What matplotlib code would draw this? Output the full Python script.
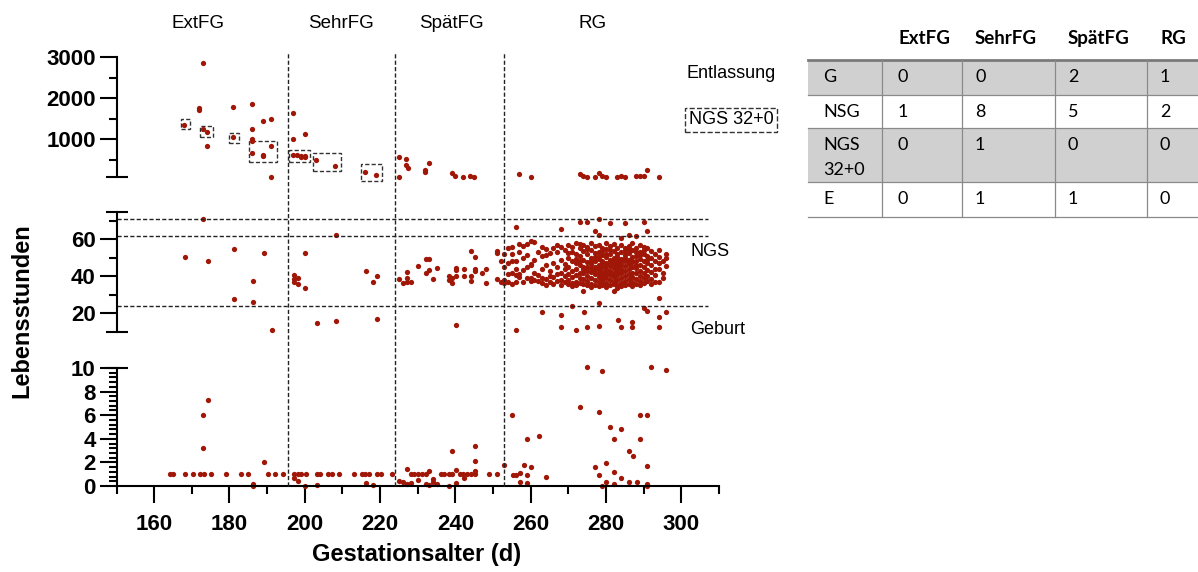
import numpy as np
import matplotlib
matplotlib.use('Agg')
import matplotlib.pyplot as plt
import matplotlib.transforms as mtrans
from matplotlib.lines import Line2D
from matplotlib.patches import Rectangle

plt.rcParams['font.family'] = ['Liberation Sans', 'DejaVu Sans']

red = '#a01707'
dash = (0, (3, 1.6))

# ---------------- data ----------------
groups = ['ExtFG', 'SehrFG', 'SpätFG', 'RG']
group_centres = [171.6, 209.6, 239.0, 276.4]      # label centres (days)
group_bounds = [195.5, 224.0, 252.8]              # vertical dividers (days)
ngs_lines = [24, 61.5, 71]                        # horizontal dashed lines (h)

# upper panel (h, discharge)
top_x = [168, 173, 174, 174, 172, 172, 173, 181, 181, 186, 186, 186, 186, 186, 189, 189, 189, 191, 191, 191,
         197, 197, 197, 198, 199, 199, 200, 200, 200, 203, 208, 216, 219,
         225, 225, 227, 227, 227.5, 232, 232, 233, 239, 240, 242, 244, 245,
         257, 260, 273, 274, 275, 277, 278, 279, 280, 283, 284, 285, 288, 289, 290, 291, 294]
top_y = [1356, 1244, 1185, 837, 1770, 1720, 2870, 1795, 1049, 1860, 1250, 1000, 950, 660, 1455, 610, 585, 1500, 837, 80,
         1650, 1010, 625, 610, 600, 575, 1130, 590, 560, 503, 356, 195, 122,
         576, 80, 512, 366, 307, 251, 202, 415, 171, 112, 80, 112, 80,
         146, 80, 146, 112, 80, 80, 171, 112, 80, 80, 112, 80, 112, 112, 112, 250, 80]

# dashed boxes in upper panel: (x0, x1, y0, y1)
boxes = [(167.2, 169.6, 1250, 1490), (172.2, 175.5, 1063, 1324), (180.0, 182.5, 902, 1146),
         (185.3, 192.6, 446, 958), (195.7, 201.4, 439, 746), (202.2, 209.5, 227, 659),
         (215.0, 220.5, -17, 390)]

# middle panel, preterm groups
mid_x = [173.1, 168.1, 174.2, 181.1, 189.2, 186.2, 181.1, 186.2, 191.2,
         197.1, 197.1, 197.1, 198.1, 198.1, 200.1, 200.1, 203.2, 208.2, 208.2, 216.2, 218.2, 219.2, 219.2,
         225.1, 226.1, 227.1, 227.1, 227.1, 228.2, 230.1, 232.1, 232.1, 233.1, 233.1, 234.1, 235.1, 238.2,
         238.2, 239.1, 239.1, 240.1, 240.1, 240.1, 240.1, 242.2, 242.2, 244.1, 245.1, 244.1, 244.1, 245.1,
         245.1, 247.1, 248.1, 248.1, 251.1, 251.1, 251.1, 252.0, 252.0]
mid_y = [70.8, 50.6, 48.4, 54.6, 52.4, 37.5, 27.7, 26.1, 10.8,
         40.7, 38.4, 37.1, 38.9, 35.8, 52.8, 33.8, 14.6, 62.3, 15.8, 43, 36.8, 40.3, 16.8,
         38.4, 36.4, 42.3, 39.2, 36.9, 37.1, 45.4, 41.8, 49.4, 49.4, 43.2, 38.7, 44.3, 40,
         37.8, 36.2, 38.9, 44.5, 43.2, 40, 13.5, 44.1, 40, 53.7, 50.4, 40, 37.5, 44.1,
         42.9, 41.8, 44.1, 36.2, 53.7, 52.6, 38.4, 36.9, 48.1]

# middle panel, term group (hours per gestational day)
rg_days = list(range(253, 297))
rg_hours = [
    [36.5, 38, 45, 52], [37, 41, 47, 55], [36, 42, 48.5, 52, 56], [36.9, 40.5, 44, 48, 66.5],
    [41.4, 39.5, 53, 57.5], [43.2, 37, 56.2, 50], [57.6, 51.4, 39, 45], [58.9, 46.8, 45.9, 39, 37.5],
    [58.5, 42, 38, 49], [37.5, 40.5, 53], [39, 44, 51, 56, 36.5], [54.9, 51.4, 46, 38.5, 35.5],
    [52.5, 43, 37, 40], [55.5, 47, 39.5, 36], [57, 45, 41, 37.5, 53], [65.4, 56, 49, 42, 38, 35.5],
    [54, 46.5, 40, 37, 44], [57, 50, 45, 41, 38, 36, 52.5], [56, 48, 43, 39.5, 36.5, 53, 34.5],
    [58, 52, 47, 44, 40.5, 37, 35, 49.5], [69.2, 55, 51, 46, 42, 39, 36.5, 48, 57.5],
    [57, 53.5, 49, 45, 41.5, 38.5, 36, 31.9, 44], [69.5, 56, 52, 47.5, 43, 40, 37.5, 35, 54.5, 45],
    [58, 54, 50, 46.5, 42.5, 39, 36, 48, 44.5, 34], [64.6, 56.5, 52.5, 48.5, 45, 41, 38, 35.5, 43.5, 50.5],
    [70.8, 62.3, 57, 53, 49.5, 46, 42, 39.5, 37, 34.5, 44, 51],
    [55.5, 51.5, 48, 45, 42.5, 40, 37.5, 35, 47, 53.5, 38.5],
    [58, 54.5, 50.5, 47, 44, 41, 39, 36.5, 34, 46, 52, 43],
    [68.6, 56.5, 52, 49, 45.5, 43, 40.5, 38, 35.5, 47.5, 54],
    [57.5, 53.5, 50, 46.5, 44.5, 42, 39.5, 37, 31.9, 48.5, 41, 36],
    [55.5, 52, 48, 45, 43, 40.5, 38, 35, 50.5, 46.5, 33.5],
    [60.9, 57, 53, 49.5, 46, 44, 41.5, 39, 36.5, 47.5, 42.5, 34.5],
    [68.6, 55, 51.5, 48, 45.5, 43, 40, 37.5, 35, 50, 53.5],
    [62.3, 56.5, 52.5, 49, 46.5, 44, 41, 38.5, 36, 47, 54.5],
    [58, 54, 50.5, 47.5, 45, 42, 39.5, 37, 34.5, 48.5],
    [61.8, 55.5, 51, 48, 44.5, 41.5, 38.5, 36, 46, 53],
    [57, 53, 49.5, 46, 43, 40, 37.5, 35, 51.5],
    [69.5, 56, 52, 48.5, 45, 42, 39, 36.5, 54],
    [64.5, 55, 51, 47, 43.5, 40, 37.5, 49],
    [53.5, 50, 46, 42.5, 38.5, 36], [52, 48.5, 44, 40.5, 37],
    [54, 50.5, 44.1, 36.9, 47], [48, 42, 39], [52.2, 49.9, 45.5]]
rg_low_x = [256, 263.1, 268.1, 268.1, 271, 272.1, 274.1, 275, 278.1, 278.1,
            283.2, 284, 287, 287, 290, 291, 294, 294, 294, 296]
rg_low_y = [10.9, 20.9, 19.1, 12.4, 23.9, 10.9, 20.9, 12.4, 25.7, 13.1,
            16.4, 12.4, 15.1, 12.4, 22.7, 21.4, 28.1, 17.8, 12.4, 20.9]

# lower panel: deaths at 1 h
one_h_days = [164.1, 165.1, 168.1, 170.2, 172.2, 173.2, 175.1, 179.2, 183.1, 185.0, 190.2, 192.1, 194.2,
              197.1, 198.2, 199.1, 200.2, 203.2, 204.1, 206.1, 207.1, 209.1, 213.1, 215.1, 216.1, 217.1,
              219.1, 220.2, 223.1, 228.2, 229.0, 230.1, 231.1, 232.1, 236.1, 237.0, 238.2, 239.0, 241.1,
              242.0, 243.0, 244.1, 245.1, 249.0, 251.1]
bot_x = [173.1, 174.2, 173.1, 189.2, 186.2, 186.2, 197.1, 198.1, 200.1, 203.2, 216.2, 218.2,
         225.1, 226.1, 227.1, 228.2, 227.1, 230.1, 232.1, 233.1, 234.1, 234.1, 235.1, 233.1, 238.2,
         239.1, 240.1, 240.1, 242.2, 245.1, 245.1, 245.1,
         252.9, 255.1, 255.2, 256.1, 257.2, 258.1, 259.1, 259.1, 259.1, 260.2, 257.2, 262.1, 264.1,
         273.1, 275.0, 277.1, 278.1, 278.1, 279.0, 279.0, 280.1, 280.1, 281.0, 282.1, 282.1, 282.1,
         284.1, 284.1, 286.1, 286.1, 287.1, 288.1, 289.0, 289.0, 291.0, 291.0, 291.0, 291.0, 292.0, 296.0]
bot_y = [6.0, 7.3, 3.2, 2.0, 0.2, 0.0, 0.65, 0.4, 0.0, 0.05, 0.23, 0.1,
         0.45, 0.37, 0.17, 0.28, 1.44, 0.5, 0.15, 0.08, 0.62, 0.37, 0.17, 1.27, 0.0,
         2.97, 1.36, 0.28, 0.65, 3.4, 2.1, 1.3,
         1.8, 6.0, 0.93, 0.93, 1.07, 1.8, 4.0, 0.93, 0.22, 1.6, 0.37, 4.24, 0.76,
         6.7, 10.1, 1.64, 6.27, 0.93, 9.77, 0.0, 1.98, 0.31, 5.03, 4.0, 1.21, 0.17,
         4.8, 0.7, 3.0, 0.31, 2.54, 0.31, 6.04, 4.0, 6.04, 1.7, 0.17, 0.0, 10.1, 9.8]

# table
tab_cols = ['ExtFG', 'SehrFG', 'SpätFG', 'RG']
tab_rows = ['G', 'NSG', 'NGS\n32+0', 'E']
tab_ext = [0, 1, 0, 0]
tab_sehr = [0, 8, 1, 1]
tab_spaet = [2, 5, 0, 1]
tab_rg = [1, 2, 0, 0]

# ---------------- figure ----------------
W, H = 1198, 572
fig = plt.figure(figsize=(W / 100, H / 100), dpi=100)


def px_axes(x0, x1, ytop, ybot):
    return fig.add_axes([x0 / W, 1 - ybot / H, (x1 - x0) / W, (ybot - ytop) / H])


ax_top = px_axes(116.5, 719, 57.3, 177.2)
ax_mid = px_axes(116.5, 719, 211.5, 331.7)
ax_bot = px_axes(116.5, 719, 368, 486)

ms = 3.8
ax_top.plot(top_x, top_y, 'o', color=red, ms=ms, mew=0, clip_on=False)
ax_mid.plot(mid_x, mid_y, 'o', color=red, ms=ms, mew=0, clip_on=False)
for d, hs in zip(rg_days, rg_hours):
    ax_mid.plot([d] * len(hs), hs, 'o', color=red, ms=ms, mew=0, clip_on=False)
ax_mid.plot(rg_low_x, rg_low_y, 'o', color=red, ms=ms, mew=0, clip_on=False)
ax_bot.plot(one_h_days, [1] * len(one_h_days), 'o', color=red, ms=ms, mew=0, clip_on=False)
ax_bot.plot(bot_x, bot_y, 'o', color=red, ms=ms, mew=0, clip_on=False)

for x0, x1, y0, y1 in boxes:
    ax_top.add_patch(Rectangle((x0, y0), x1 - x0, y1 - y0, fill=False, ec='#333333',
                               lw=1.0, ls=dash, clip_on=False))

ax_mid.hlines(ngs_lines, 150, 307, colors='#222222', lw=1.0, linestyles=[dash])

ax_top.set_ylim(75, 3000)
ax_mid.set_ylim(10, 75)
ax_bot.set_ylim(0, 10)
for ax in (ax_top, ax_mid, ax_bot):
    ax.set_xlim(150, 310)
    ax.set_facecolor('none')
    ax.spines['top'].set_visible(False)
    ax.spines['right'].set_visible(False)
    ax.spines['left'].set_linewidth(1.5)
    ax.tick_params(axis='y', which='major', length=12, width=1.5, labelsize=16, pad=3)
    ax.tick_params(axis='y', which='minor', length=6, width=1.5)
for ax in (ax_top, ax_mid):
    ax.spines['bottom'].set_visible(False)
    ax.tick_params(axis='x', which='both', bottom=False, labelbottom=False)

ax_top.set_yticks([1000, 2000, 3000])
ax_top.set_yticks([500, 1500, 2500], minor=True)
ax_mid.set_yticks([20, 40, 60])
ax_mid.set_yticks([30, 50, 70], minor=True)
ax_bot.set_yticks([0, 2, 4, 6, 8, 10])
ax_bot.set_yticks(np.arange(0, 10.01, 0.4), minor=True)
ax_bot.set_xticks(range(160, 301, 20))
ax_bot.set_xticks(range(150, 311, 10), minor=True)
ax_bot.spines['bottom'].set_linewidth(1.5)
ax_bot.tick_params(axis='x', which='major', length=12, width=1.5, labelsize=16, pad=8)
ax_bot.tick_params(axis='x', which='minor', length=6, width=1.5)
for ax in (ax_top, ax_mid, ax_bot):
    for lbl in ax.get_yticklabels() + ax.get_xticklabels():
        lbl.set_fontweight('bold')

# break caps on the y axis
cap = 11 / 602.5
for ax, yv in ((ax_top, 75), (ax_mid, 75), (ax_mid, 10), (ax_bot, 10)):
    ax.plot([-cap, cap], [yv, yv], transform=ax.get_yaxis_transform(), color='black',
            lw=1.5, clip_on=False, solid_capstyle='butt')

# vertical group dividers through all panels
trans = mtrans.blended_transform_factory(ax_bot.transData, fig.transFigure)
for b in group_bounds:
    fig.add_artist(Line2D([b, b], [1 - 486 / H, 1 - 52 / H], transform=trans,
                          color='#222222', lw=1.0, ls=dash))
for g, c in zip(groups, group_centres):
    fig.text(c, 1 - 23 / H, g, transform=trans, ha='center', va='center', fontsize=13.5)

fig.text(417 / W, 1 - 555 / H, 'Gestationsalter (d)', ha='center', va='center',
         fontsize=17, fontweight='bold')
fig.text(22 / W, 1 - 311 / H, 'Lebensstunden', ha='center', va='center', rotation=90,
         fontsize=17, fontweight='bold')

# overlay in pixel coordinates for annotations + table
ov = fig.add_axes([0, 0, 1, 1])
ov.set_xlim(0, W)
ov.set_ylim(H, 0)
ov.axis('off')
ov.patch.set_alpha(0)

ov.text(687, 73.3, 'Entlassung', fontsize=13, va='center', ha='left')
ov.text(689, 120, 'NGS 32+0', fontsize=13, va='center', ha='left',
        bbox=dict(boxstyle='square,pad=0.2', fc='none', ec='#333333', lw=1.0, ls='--'))
ov.text(690, 251.7, 'NGS', fontsize=13, va='center', ha='left')
ov.text(690, 330, 'Geburt', fontsize=13, va='center', ha='left')

# table
tf = ['Lato', 'DejaVu Sans']
col_edges = [808, 881.7, 961.7, 1055, 1146.7, 1198]
row_edges = [60, 95, 128, 182, 217]
text_x = [823, 898, 975, 1068, 1160]
grid = '#8a8a8a'
for i in (0, 2):
    ov.add_patch(Rectangle((col_edges[0], row_edges[i]), col_edges[-1] - col_edges[0],
                           row_edges[i + 1] - row_edges[i], fc='#d0d0d0', ec='none'))
for y in row_edges[1:]:
    ov.plot([col_edges[0], col_edges[-1]], [y, y], color=grid, lw=0.9)
ov.plot([col_edges[0], col_edges[-1]], [row_edges[0], row_edges[0]], color='#7a7a7a', lw=2.0)
for x in col_edges[1:-1]:
    ov.plot([x, x], [row_edges[0], row_edges[-1]], color=grid, lw=0.9)
for cx, name in zip(text_x[1:], tab_cols):
    ov.text(cx, 38.3, name, fontsize=13.5, fontweight='bold', va='center', ha='left', family=tf)
for i, rname in enumerate(tab_rows):
    yc = row_edges[i] + 17
    for k, part in enumerate(rname.split('\n')):
        ov.text(text_x[0], yc + 25 * k, part, fontsize=13, va='center', ha='left', family=tf)
    for cx, vals in zip(text_x[1:], (tab_ext, tab_sehr, tab_spaet, tab_rg)):
        ov.text(cx, yc, str(vals[i]), fontsize=13, va='center', ha='left', family=tf)

fig.savefig('out.png', dpi=100)
